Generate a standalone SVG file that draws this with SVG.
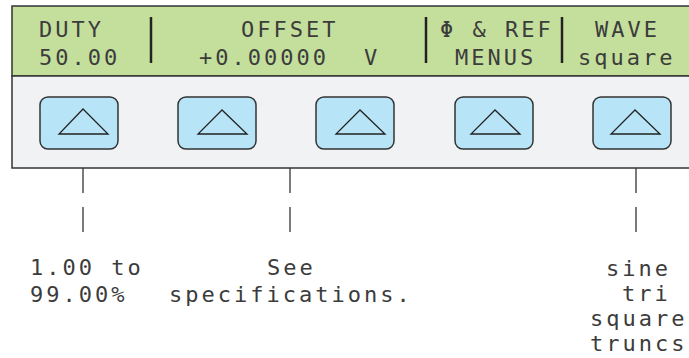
<svg xmlns="http://www.w3.org/2000/svg" width="689" height="358" viewBox="0 0 689 358">
<style>
.t{font-family:"DejaVu Sans Mono","Liberation Mono",monospace;font-size:22px;letter-spacing:3px;fill:#3c3c3c}
.btn{fill:#b8e4f8;stroke:#333;stroke-width:1.5}
.tri{fill:none;stroke:#222;stroke-width:1.3}
.sep{stroke:#222;stroke-width:2.5}
.con{stroke:#333;stroke-width:1.3}
</style>
<g id="panel">
<rect x="12" y="6" width="690" height="70" fill="#c4df9b" stroke="#333" stroke-width="1.5"/>
<rect x="12" y="76" width="690" height="92" fill="#f1f2f4" stroke="#333" stroke-width="1.5"/>
</g>
<g id="display">
<line class="sep" x1="151" y1="17" x2="151" y2="63"/>
<line class="sep" x1="426" y1="17" x2="426" y2="63"/>
<line class="sep" x1="562" y1="17" x2="562" y2="63"/>
<text class="t" x="39" y="37">DUTY</text>
<text class="t" x="39" y="65">50.00</text>
<text class="t" x="241" y="37">OFFSET</text>
<text class="t" x="199" y="65">+0.00000</text>
<text class="t" x="364" y="65">V</text>
<text class="t" x="440" y="37">Φ &amp; REF</text>
<text class="t" x="455" y="65">MENUS</text>
<text class="t" x="595" y="37">WAVE</text>
<text class="t" x="578" y="65">square</text>
</g>
<g id="btn1"><rect class="btn" x="40" y="97" width="78" height="52" rx="8"/><polygon class="tri" points="83,109 59,134 108,134"/></g>
<g id="btn2"><rect class="btn" x="178" y="97" width="78" height="52" rx="8"/><polygon class="tri" points="222,110 198,134 247,134"/></g>
<g id="btn3"><rect class="btn" x="316" y="97" width="78" height="52" rx="8"/><polygon class="tri" points="360,110 336,134 385,134"/></g>
<g id="btn4"><rect class="btn" x="455" y="97" width="78" height="52" rx="8"/><polygon class="tri" points="495,110 471,134 520,134"/></g>
<g id="btn5"><rect class="btn" x="593" y="97" width="78" height="52" rx="8"/><polygon class="tri" points="635,110 611,134 660,134"/></g>
<g id="connectors">
<line class="con" x1="83" y1="168" x2="83" y2="193"/>
<line class="con" x1="83" y1="207" x2="83" y2="232"/>
<line class="con" x1="290" y1="168" x2="290" y2="193"/>
<line class="con" x1="290" y1="207" x2="290" y2="232"/>
<line class="con" x1="636" y1="168" x2="636" y2="193"/>
<line class="con" x1="636" y1="207" x2="636" y2="232"/>
</g>
<g id="label1">
<text class="t" x="30" y="275">1.00 to</text>
<text class="t" x="30" y="302">99.00%</text>
</g>
<g id="label2">
<text class="t" x="267" y="275">See</text>
<text class="t" x="169" y="302">specifications.</text>
</g>
<g id="label3">
<text class="t" x="606" y="276">sine</text>
<text class="t" x="622" y="301">tri</text>
<text class="t" x="590" y="326">square</text>
<text class="t" x="590" y="351">truncs</text>
</g>
</svg>
